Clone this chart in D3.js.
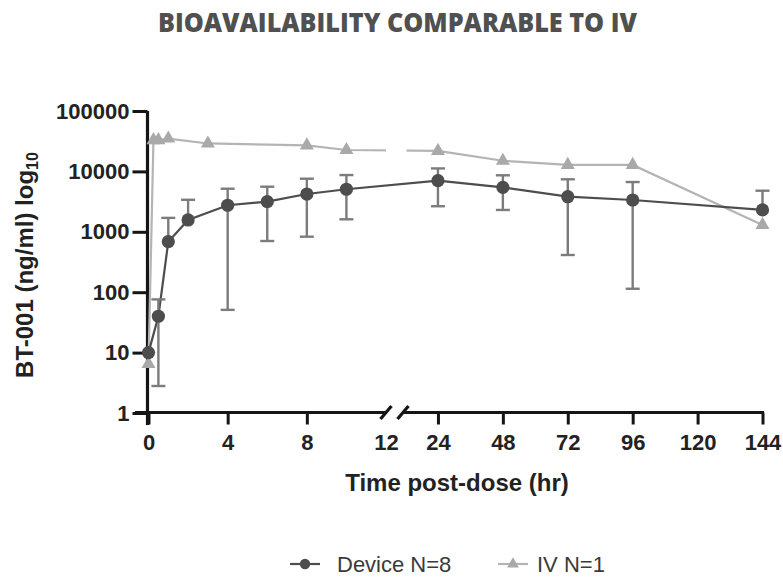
<!DOCTYPE html>
<html><head><meta charset="utf-8">
<script src="https://cdn.jsdelivr.net/npm/d3@7/dist/d3.min.js"></script>
<style>body{margin:0;background:#fff}</style>
</head><body>
<svg id="c" width="783" height="581"></svg>
<script>
// ---- data ----
const titleText = "BIOAVAILABILITY COMPARABLE TO IV";
const xTitle = "Time post-dose (hr)";
const yTickValues = [1, 10, 100, 1000, 10000, 100000];
const xTicksLeft = [0, 4, 8, 12];
const xTicksRight = [24, 48, 72, 96, 120, 144];

const deviceTime  = [0, 0.5, 1, 2, 4, 6, 8, 10, 24, 48, 72, 96, 144];
const deviceMean  = [10, 40, 686, 1570, 2750, 3150, 4220, 5060, 7020, 5450, 3810, 3360, 2300];
const deviceUpper = [null, 76, 1700, 3390, 5170, 5580, 7570, 8700, 11200, 8620, 7400, 6670, 4790];
const deviceLower = [null, 2.8, null, null, 51, 704, 830, 1610, 2650, 2300, 413, 114, null];

const ivTime  = [0, 0.25, 0.5, 1, 3, 8, 10, 24, 48, 72, 96, 144];
const ivValue = [6.5, 33000, 33000, 35000, 29000, 27000, 22600, 21800, 15000, 12800, 12800, 1300];

const legendLabels = ["Device N=8", "IV N=1"];

// ---- styles ----
const AX = "#151515", DEV = "#4d4d4d", DEVERR = "#7c7c7c", IVC = "#a9a9a9", IVL = "#b4b4b4";
const FONT = "'Liberation Sans', Arial, sans-serif";

const svg = d3.select("#c");

// scales
const y = d3.scaleLog().domain([1, 100000]).range([413, 111]);
const x1 = d3.scaleLinear().domain([0, 12]).range([148.5, 386]);
const x2 = d3.scaleLinear().domain([12, 144]).range([405.5, 762.5]);
const x = t => t <= 12 ? x1(t) : x2(t);

// title
svg.append("text").attr("x", 158).attr("y", 32)
  .attr("font-family", "'Open Sans', sans-serif").attr("font-weight", 800)
  .attr("font-size", 27).attr("fill", "#505050")
  .attr("textLength", 479).attr("lengthAdjust", "spacingAndGlyphs")
  .text(titleText);

// y axis
const yAxis = svg.append("g").attr("transform", "translate(147.5,0)")
  .call(d3.axisLeft(y).tickValues(yTickValues).tickFormat(d3.format("d")).tickSize(15).tickPadding(3));
yAxis.select(".domain").remove();
yAxis.append("line").attr("x1", 0).attr("x2", 0).attr("y1", 111).attr("y2", 425)
  .attr("stroke", AX).attr("stroke-width", 3.2);
yAxis.selectAll(".tick line").attr("stroke", AX).attr("stroke-width", 3);
yAxis.selectAll(".tick text").attr("font-family", FONT).attr("font-weight", 700)
  .attr("font-size", 22).attr("fill", "#222");

// x axis left segment
const xa1 = svg.append("g").attr("transform", "translate(0,412.5)")
  .call(d3.axisBottom(x1).tickValues(xTicksLeft).tickSize(12).tickPadding(10));
xa1.select(".domain").remove();
xa1.selectAll(".tick line").attr("stroke", AX).attr("stroke-width", 3)
  .attr("opacity", d => d === 12 ? 0 : 1);
xa1.selectAll(".tick text").attr("font-family", FONT).attr("font-weight", 700)
  .attr("font-size", 22).attr("fill", "#222");
// x axis right segment
const xa2 = svg.append("g").attr("transform", "translate(0,412.5)")
  .call(d3.axisBottom(x2).tickValues(xTicksRight).tickSize(12).tickPadding(10));
xa2.select(".domain").remove();
xa2.selectAll(".tick line").attr("stroke", AX).attr("stroke-width", 3);
xa2.selectAll(".tick text").attr("font-family", FONT).attr("font-weight", 700)
  .attr("font-size", 22).attr("fill", "#222");

// x axis lines and break marks
const axG = svg.append("g").attr("stroke", AX).attr("stroke-width", 3.2);
axG.append("line").attr("x1", 135).attr("x2", x1(12) - 0.5).attr("y1", 412.5).attr("y2", 412.5);
axG.append("line").attr("x1", x2(12) - 2.5).attr("x2", x2(144) + 1.5).attr("y1", 412.5).attr("y2", 412.5);
axG.append("line").attr("x1", x1(12) - 5.5).attr("y1", 419).attr("x2", x1(12) + 5.5).attr("y2", 406);
axG.append("line").attr("x1", x2(12) - 8).attr("y1", 419).attr("x2", x2(12) + 3).attr("y2", 406);

// axis titles
svg.append("text").attr("x", 457).attr("y", 491).attr("text-anchor", "middle")
  .attr("font-family", FONT).attr("font-weight", 700).attr("font-size", 24).attr("fill", "#222")
  .text(xTitle);
const yt = svg.append("text").attr("transform", "translate(33,265) rotate(-90)")
  .attr("text-anchor", "middle").attr("font-family", FONT).attr("font-weight", 700)
  .attr("font-size", 24).attr("fill", "#222");
yt.append("tspan").text("BT-001 (ng/ml) log");
yt.append("tspan").attr("font-size", 16).attr("dy", 5).text("10");

// clip for IV line (gap at axis break)
const defs = svg.append("defs");
const cp = defs.append("clipPath").attr("id", "ivclip");
cp.append("rect").attr("x", 0).attr("y", 0).attr("width", x1(12)).attr("height", 581);
cp.append("rect").attr("x", x2(12) + 1).attr("y", 0).attr("width", 783).attr("height", 581);

// IV line
const ivData = ivTime.map((t, i) => ({t, v: ivValue[i]}));
const line = d3.line().x(d => x(d.t)).y(d => y(d.v));
svg.append("path").datum(ivData).attr("d", line).attr("fill", "none")
  .attr("stroke", IVL).attr("stroke-width", 2.2).attr("clip-path", "url(#ivclip)");

// device line
const devData = deviceTime.map((t, i) => ({t, v: deviceMean[i], hi: deviceUpper[i], lo: deviceLower[i]}));
svg.append("path").datum(devData).attr("d", line).attr("fill", "none")
  .attr("stroke", DEV).attr("stroke-width", 2.2);

// IV markers
const tri = d3.symbol().type(d3.symbolTriangle).size(85);
svg.append("g").selectAll("path").data(ivData).join("path")
  .attr("d", tri).attr("transform", d => `translate(${x(d.t)},${y(d.v)})`)
  .attr("fill", IVC);

// device error bars
const eb = svg.append("g").attr("stroke", DEVERR).attr("stroke-width", 2.4);
devData.forEach(d => {
  const cx = x(d.t);
  if (d.hi != null) {
    eb.append("line").attr("x1", cx).attr("x2", cx).attr("y1", y(d.v)).attr("y2", y(d.hi));
    eb.append("line").attr("x1", cx - 7).attr("x2", cx + 7).attr("y1", y(d.hi)).attr("y2", y(d.hi));
  }
  if (d.lo != null) {
    eb.append("line").attr("x1", cx).attr("x2", cx).attr("y1", y(d.v)).attr("y2", y(d.lo));
    eb.append("line").attr("x1", cx - 7).attr("x2", cx + 7).attr("y1", y(d.lo)).attr("y2", y(d.lo));
  }
});

// device markers
svg.append("g").selectAll("circle").data(devData).join("circle")
  .attr("cx", d => x(d.t)).attr("cy", d => y(d.v)).attr("r", 6.6).attr("fill", DEV);

// legend
const lg = svg.append("g");
lg.append("line").attr("x1", 290).attr("x2", 320).attr("y1", 564).attr("y2", 564)
  .attr("stroke", DEV).attr("stroke-width", 2.2);
lg.append("circle").attr("cx", 305).attr("cy", 564).attr("r", 5.2).attr("fill", DEV);
lg.append("text").attr("x", 337).attr("y", 571.5).attr("font-family", FONT)
  .attr("font-size", 22).attr("fill", "#3a3a3a").text(legendLabels[0]);
lg.append("line").attr("x1", 498).attr("x2", 528).attr("y1", 564).attr("y2", 564)
  .attr("stroke", IVL).attr("stroke-width", 2.2);
lg.append("path").attr("d", d3.symbol().type(d3.symbolTriangle).size(60)())
  .attr("transform", "translate(513,564)").attr("fill", IVC);
lg.append("text").attr("x", 537).attr("y", 571.5).attr("font-family", FONT)
  .attr("font-size", 22).attr("fill", "#3a3a3a").text(legendLabels[1]);
</script>
</body></html>
